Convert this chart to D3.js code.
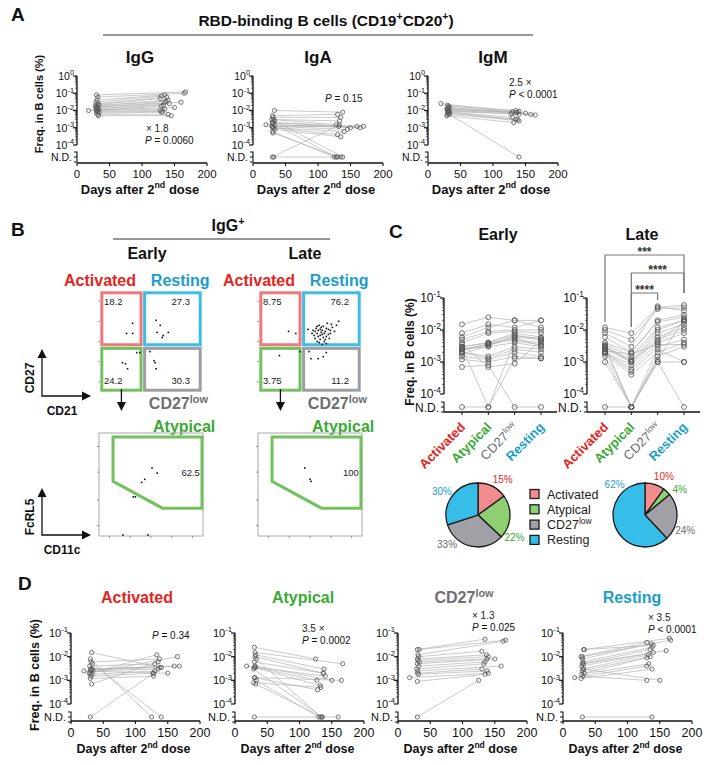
<!DOCTYPE html>
<html><head><meta charset="utf-8">
<script src="https://cdn.jsdelivr.net/npm/d3@7"></script>
<style>body{margin:0;background:#fff;} svg{font-family:Arial,"Liberation Sans",Helvetica,sans-serif;}</style>
</head><body><svg id="c" width="712" height="765"></svg>
<script>
// ================= DATA =================
const dayTicks = [0, 50, 100, 150, 200];
const subsets = ["Activated", "Atypical", "CD27low", "Resting"];

// Panel A — IgG
const igG_earlyDay = [30,32,31,29,33,30,34,28,31,30,32,29,33,30,31,18,34,30,32,33];
const igG_earlyVal = [0.08,0.06,0.04,0.03,0.025,0.022,0.02,0.018,0.016,0.015,0.013,0.012,0.011,0.01,0.009,0.01,0.008,0.007,0.006,0.005];
const igG_lateDay  = [167,165,135,130,138,128,140,137,160,135,133,142,150,130,128,135,132,130,140,145];
const igG_lateVal  = [0.12,0.1,0.08,0.07,0.06,0.05,0.04,0.035,0.03,0.03,0.02,0.025,0.015,0.018,0.01,0.012,0.009,0.008,0.006,0.005];
// Panel A — IgA (null = N.D.)
const igA_earlyDay = [33,30,31,29,32,20,30,31,33,29,30,32,31,34,30,31,30,32,33,30];
const igA_earlyVal = [0.01,0.005,0.004,0.003,0.003,0.0015,0.002,0.002,0.0015,0.0012,0.0012,0.001,0.001,0.0008,0.0006,0.0005,null,null,0.0025,0.0018];
const igA_lateDay  = [138,130,135,133,128,132,160,165,150,170,145,140,130,135,125,130,133,135,138,128];
const igA_lateVal  = [0.008,0.006,0.004,0.0025,0.0015,0.0012,0.0012,0.001,0.001,0.0012,0.0008,0.0006,0.0004,0.0003,null,null,0.0015,null,null,null];
// Panel A — IgM
const igM_earlyDay = [20,30,32,31,33,30,29,32,31,30,33,32,31,30,29,33];
const igM_earlyVal = [0.025,0.02,0.018,0.015,0.014,0.012,0.012,0.01,0.01,0.009,0.008,0.008,0.007,0.006,0.005,0.006];
const igM_lateDay  = [165,135,140,150,158,130,138,135,128,140,130,135,140,138,132,140];
const igM_lateVal  = [0.0055,0.01,0.009,0.007,0.006,0.0085,0.008,0.0075,0.0065,0.006,0.004,0.003,0.0025,0.003,0.002,null];

// Panel B — gate frequencies
const gateEarly = [18.2, 27.3, 24.2, 30.3];   // Activated, Resting, Atypical, CD27low
const gateLate  = [8.75, 76.2, 3.75, 11.2];
const atypEarly = 62.5, atypLate = 100;
const flowEarlyDots = [[0.32,0.68],[0.26,0.58],[0.32,0.58],[0.55,0.71],[0.59,0.66],[0.56,0.59],[0.62,0.56],[0.67,0.59],[0.61,0.54],[0.22,0.29],[0.25,0.28],[0.27,0.23],[0.36,0.39],[0.39,0.39],[0.53,0.31],[0.54,0.29],[0.55,0.23],[0.49,0.40]];
const flowLateDots = [[0.29,0.6],[0.36,0.58],[0.2,0.36],[0.4,0.4],[0.51,0.33],[0.58,0.33],[0.63,0.35],[0.66,0.39],[0.49,0.4],
 [0.55,0.60],[0.57,0.58],[0.60,0.62],[0.62,0.57],[0.58,0.55],[0.65,0.60],[0.63,0.65],[0.68,0.62],[0.70,0.58],[0.66,0.55],[0.60,0.52],[0.64,0.50],[0.56,0.63],[0.59,0.66],[0.72,0.64],[0.67,0.68],[0.61,0.59],[0.69,0.53],[0.57,0.50],[0.62,0.47],[0.74,0.60],[0.54,0.56],[0.66,0.63],[0.71,0.67],[0.58,0.61],[0.63,0.54],[0.60,0.56],[0.65,0.52],[0.68,0.57],[0.55,0.53],[0.52,0.58],[0.61,0.64],[0.64,0.58],[0.59,0.49],[0.76,0.66],[0.70,0.61],[0.62,0.61],[0.57,0.65],[0.66,0.48],[0.53,0.61],[0.78,0.70],[0.48,0.62]];
const atypGate = [[0.135,0.96],[0.99,0.96],[0.99,0.27],[0.61,0.27],[0.135,0.53]];
const atypEarlyDots = [[0.51,0.66],[0.56,0.61],[0.44,0.55],[0.41,0.52],[0.33,0.38],[0.35,0.38],[0.47,0.01],[0.23,0.01]];
const atypLateDots = [[0.45,0.66],[0.50,0.55],[0.51,0.53]];

// Panel C — per individual values (null = N.D.)
const cEarlyAct  = [0.015,0.008,0.006,0.005,0.004,0.003,0.003,0.0025,0.0025,0.0025,0.002,0.002,0.0015,0.0012,0.0007,null,0.0035,0.0028,0.0022,0.0018];
const cEarlyAty  = [0.025,0.015,0.012,0.009,0.008,0.004,0.004,0.0035,0.0035,0.003,0.0015,0.0013,0.0012,0.001,0.0008,null,0.0007,null,0.0038,0.0032];
const cEarlyLow  = [0.02,0.012,0.02,0.01,0.009,0.008,0.007,0.006,0.005,0.004,0.003,0.0025,0.002,0.0015,null,0.0013,0.0009,0.0045,0.0055,0.0065];
const cEarlyRest = [0.02,0.02,0.012,0.01,0.008,0.006,0.005,0.005,0.004,0.003,0.0025,0.002,0.0015,0.0013,null,0.0013,0.0045,0.0035,0.0032,0.0055];
const cLateAct   = [0.012,0.01,0.008,0.006,0.004,0.0035,0.003,0.003,0.0025,0.002,0.002,0.002,0.0018,0.0015,0.001,null,0.0025,0.0022,0.0028,0.0032];
const cLateAty   = [0.008,0.005,0.003,0.002,0.002,0.0015,0.0012,0.001,0.001,0.0008,0.0006,0.0005,0.0004,null,null,null,null,0.0018,0.0011,null];
const cLateLow   = [0.05,0.045,0.055,0.02,0.018,0.012,0.01,0.008,0.006,0.005,0.004,0.003,0.002,0.0015,0.001,0.001,0.0025,0.0035,0.0045,0.0012];
const cLateRest  = [0.06,0.05,0.04,0.03,0.025,0.02,0.02,0.015,0.012,0.01,0.008,0.005,0.004,0.003,0.001,null,0.001,0.0035,0.018,0.022];
const pieEarly = [15, 22, 33, 30];
const pieLate  = [10, 4, 24, 62];

// Panel D
const dAct_earlyDay = [32,30,31,33,29,30,32,34,20,31,30,28,33,31,30,32,30];
const dAct_earlyVal = [0.015,0.008,0.006,0.005,0.004,0.003,0.003,0.0028,0.0025,0.0025,0.002,0.002,0.0018,0.0015,0.0012,0.0007,null];
const dAct_lateDay  = [138,125,137,140,130,160,168,140,150,135,133,165,130,127,128,135,128];
const dAct_lateVal  = [0.0035,null,0.008,null,0.005,0.004,0.004,0.0035,0.002,0.003,0.012,0.01,0.0025,0.002,0.0015,0.006,0.002];
const dAty_earlyDay = [30,31,32,33,30,18,31,32,30,29,31,30,33,29,32,30,31];
const dAty_earlyVal = [0.025,0.015,0.012,0.008,0.006,0.004,0.004,0.0035,0.0035,0.003,0.0013,0.0013,0.001,0.0008,0.0007,null,0.01];
const dAty_lateDay  = [125,167,138,133,137,140,150,127,132,135,165,128,130,133,135,160,137];
const dAty_lateVal  = [0.008,0.005,0.003,null,0.002,0.0015,0.001,0.001,0.0006,null,0.001,0.0004,null,0.0005,null,null,0.002];
const dLow_earlyDay = [30,33,31,32,30,31,33,30,32,29,31,30,32,18,30,30];
const dLow_earlyVal = [0.02,0.02,0.012,0.01,0.008,0.007,0.006,0.005,0.004,0.003,0.0025,0.002,0.0018,0.0013,0.0009,null];
const dLow_lateDay  = [135,167,163,130,137,140,138,150,135,133,160,130,138,140,135,125];
const dLow_lateVal  = [0.055,0.05,0.045,0.017,0.012,0.01,0.008,0.008,0.006,0.005,0.004,0.003,0.0025,0.002,0.0018,0.001];
const dRest_earlyDay = [33,32,28,30,31,30,32,29,31,30,33,29,18,28,31,30,30,32];
const dRest_earlyVal = [0.02,0.02,0.01,0.008,0.006,0.005,0.005,0.004,0.003,0.0025,0.002,0.0018,0.0013,0.0012,0.0015,null,0.01,0.003];
const dRest_lateDay  = [165,140,130,137,138,135,160,140,132,135,130,133,130,138,130,138,167,150];
const dRest_lateVal  = [0.06,0.03,0.04,0.035,0.025,0.02,0.018,0.015,0.012,0.01,0.009,0.005,0.004,0.003,0.001,null,0.05,0.001];

// ================= STYLE =================
const RED = "#e52421", GREEN = "#3aa935", GRAY = "#6d6e71", BLUE = "#1b9dc9";
const BOX = {Activated:"#f0777a", Resting:"#3cbde6", Atypical:"#72c15e", CD27low:"#9c9ea3"};
const PIE = ["#f28c8e", "#8fcf73", "#a0a0a6", "#36bde8"];
const TXT = [RED, GREEN, GRAY, BLUE];
const LINE = "#b3b3b3", PT = "#555";

const svg = d3.select("#c");

function txt(x, y, s, o = {}) {
  const t = svg.append("text").attr("x", x).attr("y", y).text(s)
    .attr("font-size", o.size || 12).attr("font-weight", o.bold ? "bold" : "normal")
    .attr("fill", o.color || "#111").attr("text-anchor", o.anchor || "start");
  if (o.italic) t.attr("font-style", "italic");
  if (o.rot) t.attr("transform", `rotate(${o.rot},${x},${y})`);
  return t;
}
function sup(t, s, dy = -5) { t.append("tspan").attr("dy", dy).attr("font-size", "0.68em").text(s); return t; }
function daysLabel(x, y, size) {
  const t = txt(x, y, "Days after 2", {size, bold: true, anchor: "middle"});
  t.append("tspan").attr("dy", -size * 0.4).attr("font-size", "0.68em").text("nd");
  t.append("tspan").attr("dy", size * 0.4).text(" dose");
}
function pLabel(x, y, rest, size) {
  const t = txt(x, y, "P", {size, italic: true});
  t.append("tspan").attr("font-style", "normal").text(rest);
}

function logAxis(g, ax, y, exps, ndY, fs) {
  const top = y(10 ** exps[0]), bot = y(10 ** exps[exps.length - 1]);
  g.append("line").attr("x1", ax).attr("x2", ax).attr("y1", top).attr("y2", bot).attr("stroke", "#111").attr("stroke-width", 1.3);
  for (let i = 0; i < exps.length - 1; i++) {
    const e = exps[i + 1];
    for (let m = 2; m < 10; m++) {
      const v = m * 10 ** e;
      g.append("line").attr("x1", ax - 2).attr("x2", ax).attr("y1", y(v)).attr("y2", y(v)).attr("stroke", "#111").attr("stroke-width", 0.6);
    }
  }
  exps.forEach(e => {
    const yy = y(10 ** e);
    g.append("line").attr("x1", ax - 4).attr("x2", ax).attr("y1", yy).attr("y2", yy).attr("stroke", "#111").attr("stroke-width", 1.2);
    const t = g.append("text").attr("x", ax - 3).attr("y", yy + fs * 0.36).attr("text-anchor", "end").attr("font-size", fs).attr("fill", "#111").text("10");
    t.append("tspan").attr("dy", -fs * 0.42).attr("font-size", fs * 0.7).text(String(e));
  });
  g.append("path").attr("d", `M${ax - 3},${ndY - 5}H${ax}V${ndY + 5}H${ax - 3}M${ax - 3},${ndY}H${ax}`)
    .attr("fill", "none").attr("stroke", "#111").attr("stroke-width", 1.1);
  g.append("text").attr("x", ax - 5).attr("y", ndY + fs * 0.4).attr("text-anchor", "end").attr("font-size", fs).attr("fill", "#111").text("N.D.");
}

function pairedPlot(o, eD, eV, lD, lV) {
  const g = svg.append("g");
  const x = d3.scaleLinear().domain([0, 200]).range([o.x0, o.x0 + o.w]);
  const y = d3.scaleLog().domain([1e-4, 10 ** o.topExp]).range([o.yBot, o.yTop]);
  const yv = v => v == null ? o.ndY : y(v);
  eD.forEach((_, i) => g.append("line").attr("x1", x(eD[i])).attr("y1", yv(eV[i])).attr("x2", x(lD[i])).attr("y2", yv(lV[i]))
    .attr("stroke", LINE).attr("stroke-width", 0.7));
  const pts = eD.map((d, i) => [d, eV[i]]).concat(lD.map((d, i) => [d, lV[i]]));
  g.selectAll(null).data(pts).join("circle").attr("cx", d => x(d[0])).attr("cy", d => yv(d[1])).attr("r", o.r || 2.2)
    .attr("fill", "none").attr("stroke", PT).attr("stroke-width", 0.8);
  logAxis(g, o.x0, y, d3.range(o.topExp, -5, -1), o.ndY, o.fs);
  g.append("line").attr("x1", x(0)).attr("x2", x(200)).attr("y1", o.axisY).attr("y2", o.axisY).attr("stroke", "#111").attr("stroke-width", 1.3);
  dayTicks.forEach(t => {
    g.append("line").attr("x1", x(t)).attr("x2", x(t)).attr("y1", o.axisY).attr("y2", o.axisY + 3).attr("stroke", "#111").attr("stroke-width", 1.1);
    g.append("text").attr("x", x(t)).attr("y", o.axisY + o.xfs + 3).attr("text-anchor", "middle").attr("font-size", o.xfs).attr("fill", "#111").text(t);
  });
  daysLabel(o.x0 + o.w / 2 - 2, o.axisY + o.xfs + 19, o.lfs);
  return {x, y};
}

// ================= PANEL A =================
txt(11, 21, "A", {size: 19, bold: true});
{
  const t = txt(326, 26, "RBD-binding B cells (CD19", {size: 15.5, bold: true, anchor: "middle"});
  t.append("tspan").attr("dy", -6).attr("font-size", "0.68em").text("+");
  t.append("tspan").attr("dy", 6).text("CD20");
  t.append("tspan").attr("dy", -6).attr("font-size", "0.68em").text("+");
  t.append("tspan").attr("dy", 6).text(")");
}
svg.append("line").attr("x1", 103).attr("x2", 533).attr("y1", 35).attr("y2", 35).attr("stroke", "#333").attr("stroke-width", 1.2);
const aOpt = x0 => ({x0, w: 130, yTop: 76, yBot: 145, topExp: 0, ndY: 157, axisY: 163, fs: 10.5, xfs: 11.5, lfs: 13, r: 2.1});
pairedPlot(aOpt(77), igG_earlyDay, igG_earlyVal, igG_lateDay, igG_lateVal);
pairedPlot(aOpt(253), igA_earlyDay, igA_earlyVal, igA_lateDay, igA_lateVal);
pairedPlot(aOpt(428), igM_earlyDay, igM_earlyVal, igM_lateDay, igM_lateVal);
txt(140, 63, "IgG", {size: 17, bold: true, anchor: "middle"});
txt(318, 63, "IgA", {size: 17, bold: true, anchor: "middle"});
txt(493, 63, "IgM", {size: 17, bold: true, anchor: "middle"});
txt(43, 104, "Freq. in B cells (%)", {size: 11, bold: true, anchor: "middle", rot: -90});
txt(146, 132, "× 1.8", {size: 10, color: "#222"});
pLabel(145, 144, " = 0.0060", 10);
pLabel(325, 102, " = 0.15", 10);
txt(509, 86, "2.5 ×", {size: 10, color: "#222"});
pLabel(509, 98, " < 0.0001", 10);

// ================= PANEL B =================
txt(11, 236, "B", {size: 19, bold: true});
{ const t = txt(228, 231, "IgG", {size: 16, bold: true, anchor: "middle"}); sup(t, "+", -6); }
svg.append("line").attr("x1", 113).attr("x2", 330).attr("y1", 239).attr("y2", 239).attr("stroke", "#333").attr("stroke-width", 1.2);
txt(147, 259, "Early", {size: 16, bold: true, anchor: "middle"});
txt(305, 259, "Late", {size: 16, bold: true, anchor: "middle"});

function flowQuad(x0, vals, dots) {
  const fx = d3.scaleLinear().domain([0, 1]).range([x0, x0 + 102]);
  const fy = d3.scaleLinear().domain([0, 1]).range([392, 291]);
  const sx = 0.42, sy = 0.45, ins = 1.8;
  const gates = [
    {n: "Activated", x: [0, sx], y: [sy, 1]}, {n: "Resting", x: [sx, 1], y: [sy, 1]},
    {n: "Atypical", x: [0, sx], y: [0, sy]}, {n: "CD27low", x: [sx, 1], y: [0, sy]}];
  [0.1, 0.3, 0.5, 0.7, 0.9].forEach(v => {
    svg.append("line").attr("x1", fx(0) - 2).attr("x2", fx(0)).attr("y1", fy(v)).attr("y2", fy(v)).attr("stroke", "#777").attr("stroke-width", 0.7);
  });
  gates.forEach((gt, i) => {
    svg.append("rect").attr("x", fx(gt.x[0]) + ins).attr("y", fy(gt.y[1]) + ins)
      .attr("width", fx(gt.x[1]) - fx(gt.x[0]) - 2 * ins).attr("height", fy(gt.y[0]) - fy(gt.y[1]) - 2 * ins)
      .attr("fill", "none").attr("stroke", BOX[gt.n]).attr("stroke-width", 3);
    const left = gt.x[0] === 0, top = gt.y[1] === 1;
    svg.append("text").attr("x", left ? fx(gt.x[0]) + 4 : fx(gt.x[1]) - 12).attr("y", top ? fy(gt.y[1]) + 14 : fy(gt.y[0]) - 8)
      .attr("text-anchor", left ? "start" : "end").attr("font-size", 9.5).attr("fill", "#222").text(vals[i]);
  });
  svg.selectAll(null).data(dots).join("rect").attr("x", d => fx(d[0]) - 0.8).attr("y", d => fy(d[1]) - 0.8)
    .attr("width", 1.6).attr("height", 1.6).attr("fill", "#111");
  const ax = fx(sx / 2);
  svg.append("line").attr("x1", ax).attr("x2", ax).attr("y1", fy(0.03)).attr("y2", 404).attr("stroke", "#111").attr("stroke-width", 1.3);
  svg.append("path").attr("d", `M${ax - 4.5},402L${ax + 4.5},402L${ax},411Z`).attr("fill", "#111");
  const c = txt(fx(sx) + 6, 409, "CD27", {size: 16, bold: true, color: GRAY}); sup(c, "low", -6);
  txt(fx(0) - 36, 286, "Activated", {size: 16, bold: true, color: RED});
  txt(fx(sx) + 8, 286, "Resting", {size: 16, bold: true, color: BLUE});
  txt(fx(0.52), 432, "Atypical", {size: 16, bold: true, color: GREEN});
}
flowQuad(100, gateEarly, flowEarlyDots);
flowQuad(259, gateLate, flowLateDots);

function flowAtyp(x0, val, dots) {
  const fx = d3.scaleLinear().domain([0, 1]).range([x0, x0 + 104]);
  const fy = d3.scaleLinear().domain([0, 1]).range([536, 433]);
  svg.append("rect").attr("x", fx(0)).attr("y", fy(1)).attr("width", 104).attr("height", 103).attr("fill", "none").attr("stroke", "#aaa").attr("stroke-width", 1);
  [0.1, 0.35, 0.62, 0.87].forEach(v => svg.append("line").attr("x1", fx(0) - 2).attr("x2", fx(0)).attr("y1", fy(v)).attr("y2", fy(v)).attr("stroke", "#666").attr("stroke-width", 0.7));
  [0.1, 0.3, 0.5, 0.7, 0.9].forEach(v => svg.append("line").attr("x1", fx(v)).attr("x2", fx(v)).attr("y1", fy(0)).attr("y2", fy(0) + 2).attr("stroke", "#666").attr("stroke-width", 0.7));
  svg.append("path").attr("d", d3.line().x(d => fx(d[0])).y(d => fy(d[1]))(atypGate) + "Z")
    .attr("fill", "none").attr("stroke", BOX.Atypical).attr("stroke-width", 3);
  svg.selectAll(null).data(dots).join("rect").attr("x", d => fx(d[0]) - 0.8).attr("y", d => fy(d[1]) - 0.8)
    .attr("width", 1.6).attr("height", 1.6).attr("fill", "#111");
  svg.append("text").attr("x", fx(0.97)).attr("y", fy(0.58)).attr("text-anchor", "end").attr("font-size", 9.5).attr("fill", "#222").text(val);
}
flowAtyp(99, atypEarly, atypEarlyDots);
flowAtyp(258, atypLate, atypLateDots);

function axisArrows(y0, lab1, lab2) {
  svg.append("path").attr("d", `M42,${y0 - 40}V${y0}H84`).attr("fill", "none").attr("stroke", "#111").attr("stroke-width", 1.3);
  svg.append("path").attr("d", `M37.5,${y0 - 38}L46.5,${y0 - 38}L42,${y0 - 47}Z`).attr("fill", "#111");
  svg.append("path").attr("d", `M82,${y0 - 4.5}L82,${y0 + 4.5}L91,${y0}Z`).attr("fill", "#111");
  txt(34, y0 - 18, lab1, {size: 12, bold: true, anchor: "middle", rot: -90});
  txt(62, y0 + 19, lab2, {size: 12, bold: true, anchor: "middle"});
}
axisArrows(396, "CD27", "CD21");
axisArrows(535, "FcRL5", "CD11c");

// ================= PANEL C =================
txt(389, 238, "C", {size: 19, bold: true});
txt(498, 240, "Early", {size: 16, bold: true, anchor: "middle"});
txt(642, 240, "Late", {size: 16, bold: true, anchor: "middle"});
txt(414, 352, "Freq. in B cells (%)", {size: 12, bold: true, anchor: "middle", rot: -90});

function catPlot(x0, cols) {
  const g = svg.append("g");
  const x = d3.scalePoint().domain(subsets).range([x0 + 18, x0 + 97]);
  const y = d3.scaleLog().domain([1e-4, 1e-1]).range([394, 298]);
  const ndY = 407;
  const yv = v => v == null ? ndY : y(v);
  cols[0].forEach((_, i) => {
    for (let k = 0; k < 3; k++) {
      g.append("line").attr("x1", x(subsets[k])).attr("y1", yv(cols[k][i])).attr("x2", x(subsets[k + 1])).attr("y2", yv(cols[k + 1][i]))
        .attr("stroke", LINE).attr("stroke-width", 0.7);
    }
  });
  cols.forEach((col, k) => g.selectAll(null).data(col).join("circle").attr("cx", x(subsets[k])).attr("cy", d => yv(d))
    .attr("r", 2.5).attr("fill", "none").attr("stroke", PT).attr("stroke-width", 0.8));
  logAxis(g, x0, y, [-1, -2, -3, -4], ndY, 12);
  g.append("line").attr("x1", x0).attr("x2", x0 + 113).attr("y1", 412).attr("y2", 412).attr("stroke", "#111").attr("stroke-width", 1.3);
  subsets.forEach((s, k) => {
    g.append("line").attr("x1", x(s)).attr("x2", x(s)).attr("y1", 412).attr("y2", 415).attr("stroke", "#111").attr("stroke-width", 1);
    const lx = x(s) + 4, ly = 428;
    const t = g.append("text").attr("x", lx).attr("y", ly).attr("text-anchor", "end").attr("font-size", 13)
      .attr("font-weight", "bold").attr("fill", TXT[k]).attr("transform", `rotate(-45,${lx},${ly})`);
    if (s === "CD27low") { t.attr("font-weight", "normal").text("CD27"); t.append("tspan").attr("dy", -5).attr("font-size", "0.68em").text("low"); }
    else t.text(s);
  });
  return {x, y};
}
catPlot(444, [cEarlyAct, cEarlyAty, cEarlyLow, cEarlyRest]);
const late = catPlot(587, [cLateAct, cLateAty, cLateLow, cLateRest]);

const brackets = [
  {a: "Activated", b: "Resting", lvl: 255, la: 322, lb: 293, s: "***"},
  {a: "Atypical", b: "Resting", lvl: 273, la: 327, lb: 293, s: "****"},
  {a: "Atypical", b: "CD27low", lvl: 293, la: 327, lb: 300, s: "****"}];
brackets.forEach(bk => {
  const xa = late.x(bk.a), xb = late.x(bk.b);
  svg.append("path").attr("d", `M${xa},${bk.la}V${bk.lvl}H${xb}V${bk.lb}`).attr("fill", "none").attr("stroke", "#777").attr("stroke-width", 1.2);
  txt((xa + xb) / 2, bk.lvl + 1, bk.s, {size: 12, bold: true, anchor: "middle", color: "#333"});
});

function drawPie(cx, cy, vals, angs) {
  const arcs = d3.pie().sort(null)(vals);
  const arc = d3.arc().innerRadius(0).outerRadius(32);
  const g = svg.append("g").attr("transform", `translate(${cx},${cy})`);
  g.selectAll(null).data(arcs).join("path").attr("d", arc).attr("fill", (d, i) => PIE[i]).attr("stroke", "#1a1a1a").attr("stroke-width", 1.3);
  arcs.forEach((d, i) => {
    const a = angs[i] * Math.PI / 180, r = 43;
    g.append("text").attr("x", r * Math.sin(a)).attr("y", -r * Math.cos(a) + 3.5).attr("text-anchor", "middle")
      .attr("font-size", 10).attr("fill", TXT[i]).text(vals[i] + "%");
  });
}
drawPie(478, 515, pieEarly, [35, 122, 226, 303]);
drawPie(645, 515, pieLate, [26, 54, 111, 315]);

subsets.forEach((s, i) => {
  const ry = 494 + i * 15.3;
  svg.append("rect").attr("x", 530).attr("y", ry - 4.5).attr("width", 9).attr("height", 9).attr("fill", PIE[i]).attr("stroke", "#1a1a1a").attr("stroke-width", 1.3);
  const t = txt(547, ry + 4.5, s === "CD27low" ? "CD27" : s, {size: 12.5, color: "#222"});
  if (s === "CD27low") sup(t, "low", -5);
});

// ================= PANEL D =================
txt(18, 590, "D", {size: 19, bold: true});
const dOpt = x0 => ({x0, w: 129, yTop: 633, yBot: 704, topExp: -1, ndY: 717, axisY: 721, fs: 11, xfs: 12.5, lfs: 12.5, r: 2.1});
pairedPlot(dOpt(71), dAct_earlyDay, dAct_earlyVal, dAct_lateDay, dAct_lateVal);
pairedPlot(dOpt(235), dAty_earlyDay, dAty_earlyVal, dAty_lateDay, dAty_lateVal);
pairedPlot(dOpt(398), dLow_earlyDay, dLow_earlyVal, dLow_lateDay, dLow_lateVal);
pairedPlot(dOpt(563), dRest_earlyDay, dRest_earlyVal, dRest_lateDay, dRest_lateVal);
txt(137, 603, "Activated", {size: 16, bold: true, anchor: "middle", color: RED});
txt(303, 603, "Atypical", {size: 16, bold: true, anchor: "middle", color: GREEN});
{ const t = txt(464, 603, "CD27", {size: 16, bold: true, anchor: "middle", color: GRAY}); sup(t, "low", -6); }
txt(632, 603, "Resting", {size: 16, bold: true, anchor: "middle", color: BLUE});
txt(39, 675, "Freq. in B cells (%)", {size: 12.5, bold: true, anchor: "middle", rot: -90});
pLabel(152, 639, " = 0.34", 10);
txt(302, 632, "3.5 ×", {size: 10, color: "#222"});
pLabel(302, 644, " = 0.0002", 10);
txt(472, 619, "× 1.3", {size: 10, color: "#222"});
pLabel(472, 631, " = 0.025", 10);
txt(648, 621, "× 3.5", {size: 10, color: "#222"});
pLabel(648, 633, " < 0.0001", 10);
</script></body></html>
